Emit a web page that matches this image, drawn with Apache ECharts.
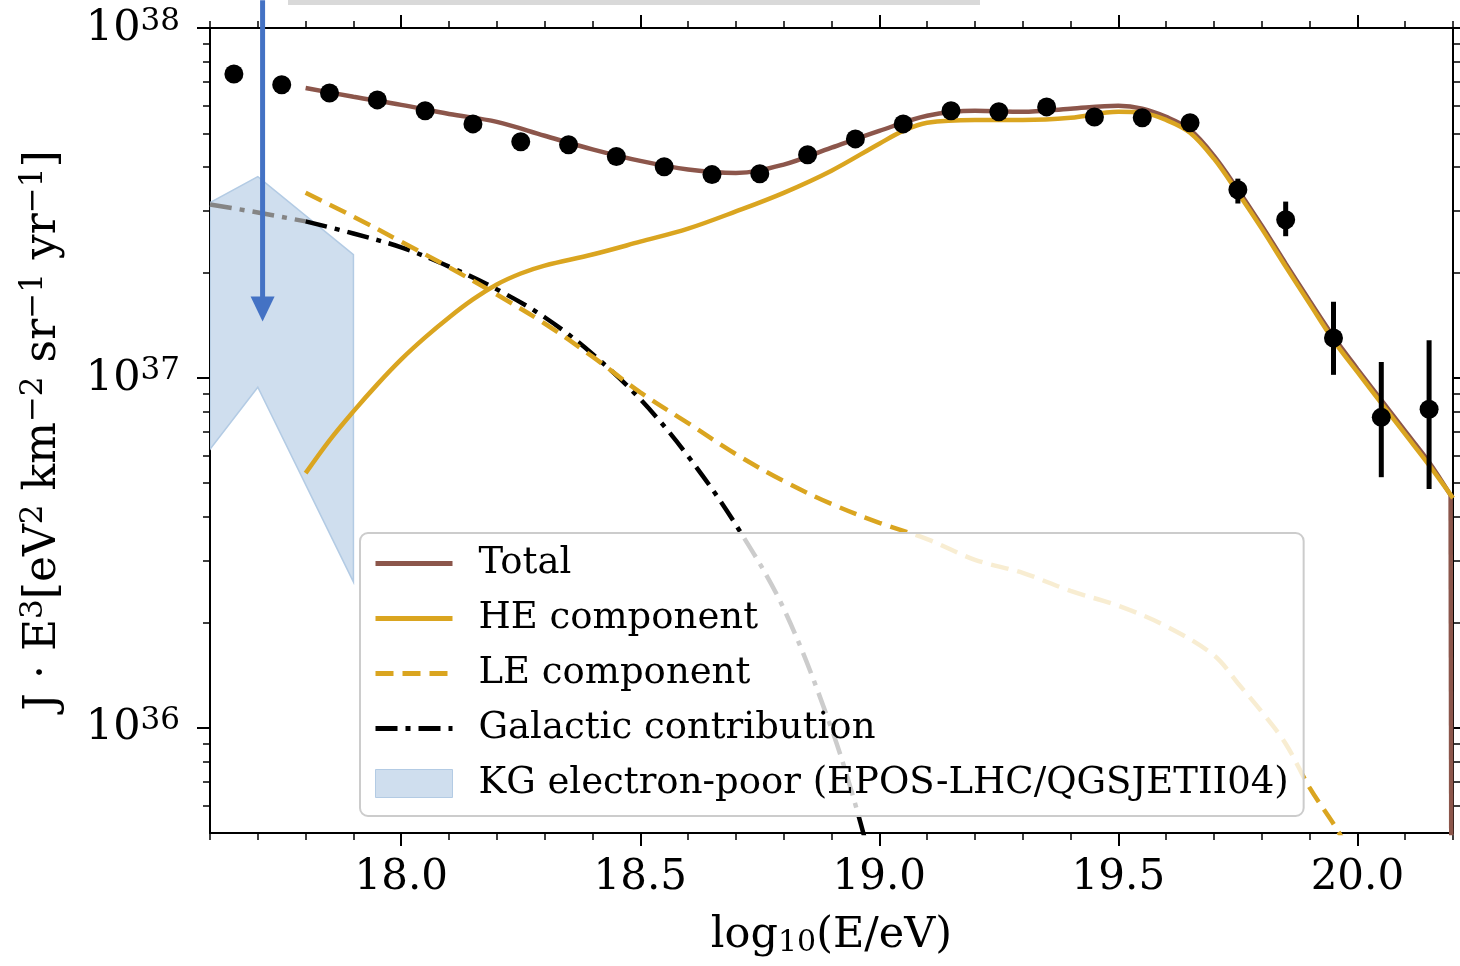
<!DOCTYPE html>
<html>
<head>
<meta charset="utf-8">
<script src="https://cdn.jsdelivr.net/npm/echarts@6/dist/echarts.min.js"></script>
<style>html,body{margin:0;padding:0;background:#fff}#c{width:1460px;height:966px}</style>
</head>
<body>
<div id="c"></div>
<script>
// ---------------- data ----------------
const dataX = [17.65,17.75,17.85,17.95,18.05,18.15,18.25,18.35,18.45,18.55,18.65,18.75,18.85,18.95,19.05,19.15,19.25,19.35,19.45,19.55,19.65,19.75,19.85,19.95,20.05,20.15];
const dataY = [7.39e37,6.88e37,6.52e37,6.23e37,5.80e37,5.32e37,4.73e37,4.64e37,4.29e37,4.01e37,3.81e37,3.83e37,4.34e37,4.82e37,5.32e37,5.80e37,5.76e37,5.95e37,5.57e37,5.54e37,5.36e37,3.45e37,2.83e37,1.30e37,7.71e36,8.13e36];
const errX  = [19.75,19.85,19.95,20.05,20.15];
const errLo = [3.15e37,2.54e37,1.02e37,5.20e36,4.81e36];
const errHi = [3.71e37,3.19e37,1.65e37,1.11e37,1.28e37];

const totalX = [17.8,17.9,18.0,18.1,18.2,18.3,18.4,18.5,18.6,18.7,18.8,18.9,19.0,19.1,19.2,19.3,19.4,19.5,19.55,19.6,19.65,19.7,19.75,19.8,19.85,19.9,19.95,20.0,20.05,20.1,20.15,20.195];
const totalY = [6.74e37,6.36e37,6.03e37,5.68e37,5.39e37,4.92e37,4.50e37,4.17e37,3.94e37,3.85e37,4.07e37,4.55e37,5.08e37,5.61e37,5.80e37,5.76e37,5.88e37,5.99e37,5.88e37,5.57e37,5.12e37,4.31e37,3.45e37,2.72e37,2.12e37,1.66e37,1.31e37,1.06e37,8.63e36,7.04e36,5.74e36,4.62e36];
const totalDropX = [20.195,20.2];
const totalDropY = [4.62e36,1e33];

const heX = [17.8,17.85,17.9,17.95,18.0,18.05,18.1,18.15,18.2,18.25,18.3,18.4,18.5,18.6,18.7,18.8,18.9,19.0,19.05,19.1,19.2,19.3,19.4,19.5,19.55,19.6,19.65,19.7,19.75,19.8,19.85,19.9,19.95,20.0,20.05,20.1,20.15,20.2];
const heY = [5.34e36,6.63e36,8.02e36,9.58e36,1.129e37,1.305e37,1.488e37,1.675e37,1.849e37,1.987e37,2.094e37,2.252e37,2.45e37,2.67e37,2.99e37,3.38e37,3.91e37,4.67e37,5.08e37,5.36e37,5.46e37,5.46e37,5.54e37,5.76e37,5.72e37,5.46e37,5.02e37,4.23e37,3.38e37,2.67e37,2.08e37,1.63e37,1.28e37,1.04e37,8.46e36,6.90e36,5.63e36,4.53e36];

const leX = [17.8,17.9,18.0,18.1,18.2,18.3,18.4,18.5,18.6,18.7,18.8,18.9,19.0,19.1,19.2,19.3,19.4,19.5,19.6,19.7,19.75,19.8,19.85,19.9,19.96,20.0];
const leY = [3.38e37,2.89e37,2.45e37,2.07e37,1.73e37,1.43e37,1.15e37,9.09e36,7.42e36,6.05e36,5.07e36,4.36e36,3.85e36,3.46e36,3.02e36,2.77e36,2.46e36,2.23e36,1.95e36,1.61e36,1.34e36,1.11e36,9.0e35,6.74e35,5.05e35,4.0e35];

const galX = [17.8,17.9,18.0,18.1,18.2,18.3,18.4,18.5,18.6,18.7,18.8,18.9,18.96,19.0];
const galY = [2.80e37,2.585e37,2.36e37,2.08e37,1.79e37,1.49e37,1.17e37,8.69e36,5.97e36,3.80e36,2.19e36,9.93e35,5.39e35,3.25e35];
const galExtX = [17.6,17.7,17.8];
const galExtY = [3.13e37,2.97e37,2.80e37];

const bandX  = [17.6,17.7,17.9];
const bandHi = [3.17e37,3.76e37,2.25e37];
const bandLo = [6.25e36,9.40e36,2.61e36];

const arrowX = 17.71, arrowTop = 1.2e38, arrowTip = 1.45e37;

const xMajor = [18.0,18.5,19.0,19.5,20.0];
const yMajor = [1e36,1e37,1e38];
const yMinor = [6e35,7e35,8e35,9e35,2e36,3e36,4e36,5e36,6e36,7e36,8e36,9e36,2e37,3e37,4e37,5e37,6e37,7e37,8e37,9e37];

const names = ['Total','HE component','LE component','Galactic contribution','KG electron-poor (EPOS-LHC/QGSJETII04)'];

// ---------------- chart ----------------
const FONT = 'DejaVu Serif';
const xMin = 17.6, xMax = 20.2, yMin = 5e35, yMax = 1e38;
const zip = (a, b) => a.map((v, i) => [v, b[i]]);
const GOLD = '#daa520', BROWN = '#8c564b';
const DASH = [18, 9], DASHDOT = [22, 8, 5, 8];

function xAxisDef(pos, major) {
  const ax = {
    type: 'value', position: pos, min: xMin, max: xMax,
    axisLine: {show: major, onZero: false, lineStyle: {color: '#000', width: 2}},
    splitLine: {show: false},
    axisLabel: {show: false}
  };
  if (major) {
    ax.axisTick = {show: true, inside: false, length: 13, customValues: xMajor, lineStyle: {color: '#000', width: 2}};
    if (pos === 'bottom') {
      ax.axisLabel = {show: true, customValues: xMajor, margin: 24, fontSize: 42, fontFamily: FONT, color: '#000',
        formatter: v => Number(v).toFixed(1)};
      ax.name = '{a|log}{u|10}{a|(E/eV)}';
      ax.nameLocation = 'middle';
      ax.nameGap = 81;
      ax.nameTextStyle = {fontFamily: FONT, color: '#000', rich: {
        a: {fontSize: 43, fontFamily: FONT, color: '#000', lineHeight: 44, verticalAlign: 'top'},
        u: {fontSize: 30, fontFamily: FONT, color: '#000', lineHeight: 20, verticalAlign: 'bottom'}
      }};
    }
  } else {
    ax.interval = 0.1;
    ax.axisTick = {show: true, inside: false, length: 7, lineStyle: {color: '#000', width: 1.5}};
  }
  return ax;
}
function yAxisDef(pos, major) {
  const ax = {
    type: 'log', logBase: 10, position: pos, min: yMin, max: yMax,
    axisLine: {show: major, onZero: false, lineStyle: {color: '#000', width: 2}},
    splitLine: {show: false},
    axisLabel: {show: false}
  };
  if (major) {
    ax.axisTick = {show: true, inside: false, length: 13, customValues: yMajor, lineStyle: {color: '#000', width: 2}};
    if (pos === 'left') {
      ax.axisLabel = {show: true, customValues: yMajor, margin: 30,
        formatter: v => '{b|10}{s|' + Math.round(Math.log10(v)) + '}',
        rich: {
          b: {fontSize: 43, fontFamily: FONT, color: '#000', lineHeight: 44, verticalAlign: 'bottom'},
          s: {fontSize: 31, fontFamily: FONT, color: '#000', lineHeight: 20, verticalAlign: 'top'}
        }};
      ax.name = '{a|J \u00b7 E}{s|3}{a|[eV}{s|2}{a| km}{s|\u22122}{a| sr}{s|\u22121}{a| yr}{s|\u22121}{a|]}';
      ax.nameLocation = 'middle';
      ax.nameGap = 144;
      ax.nameRotate = 90;
      ax.nameTextStyle = {fontFamily: FONT, color: '#000', rich: {
        a: {fontSize: 44, fontFamily: FONT, color: '#000', lineHeight: 48, verticalAlign: 'bottom'},
        s: {fontSize: 31, fontFamily: FONT, color: '#000', lineHeight: 22, verticalAlign: 'top'}
      }};
    }
  } else {
    ax.axisTick = {show: true, inside: false, length: 7, customValues: yMinor, lineStyle: {color: '#000', width: 1.5}};
  }
  return ax;
}

const legLine = (name, color, type) => ({name: name, itemStyle: {opacity: 0},
  lineStyle: {color: color, width: 5, type: type, opacity: 1}});

const option = {
  animation: false,
  backgroundColor: '#fff',
  grid: {left: 210, right: 7, top: 28, bottom: 133, containLabel: false},
  xAxis: [xAxisDef('bottom', true), xAxisDef('bottom', false), xAxisDef('top', true), xAxisDef('top', false)],
  yAxis: [yAxisDef('left', true), yAxisDef('left', false), yAxisDef('right', true), yAxisDef('right', false)],
  legend: {
    orient: 'vertical', left: 360, top: 533, z: 20,
    padding: [9, 15, 11, 13], itemWidth: 77, itemHeight: 28, itemGap: 12,
    backgroundColor: 'rgba(255,255,255,0.8)', borderColor: '#cccccc', borderWidth: 2, borderRadius: 8,
    textStyle: {fontSize: 37, fontFamily: FONT, color: '#000', lineHeight: 43, padding: [0, 0, 0, 21]},
    data: [
      legLine(names[0], BROWN, 'solid'),
      legLine(names[1], GOLD, 'solid'),
      legLine(names[2], GOLD, DASH),
      legLine(names[3], '#000', DASHDOT),
      {name: names[4], icon: 'rect', itemStyle: {color: '#cfdeee', borderColor: '#b3cbe4', borderWidth: 1, opacity: 1}}
    ]
  },
  graphic: [{type: 'rect', left: 288, top: 0, shape: {width: 692, height: 5}, style: {fill: '#d9d9d9'}, silent: true}],
  series: [
    {
      name: names[4], type: 'custom', z: 1, clip: true,
      itemStyle: {color: '#cfdeee'},
      data: [[bandX[0], bandHi[0]]],
      renderItem: function (params, api) {
        const pts = [];
        for (let i = 0; i < bandX.length; i++) pts.push(api.coord([bandX[i], bandHi[i]]));
        for (let i = bandX.length - 1; i >= 0; i--) pts.push(api.coord([bandX[i], bandLo[i]]));
        return {type: 'polygon', shape: {points: pts},
          style: {fill: '#cfdeee', stroke: '#b3cbe4', lineWidth: 1.5}};
      }
    },
    {
      name: 'galext', type: 'line', z: 3, data: zip(galExtX, galExtY), showSymbol: false, symbol: 'none', smooth: 0.3,
      lineStyle: {color: '#858585', width: 4.5, type: DASHDOT}
    },
    {
      name: names[3], type: 'line', z: 3, data: zip(galX, galY), showSymbol: false, symbol: 'none', smooth: 0.35,
      itemStyle: {color: '#000'},
      lineStyle: {color: '#000', width: 4.5, type: DASHDOT}
    },
    {
      name: names[2], type: 'line', z: 3, data: zip(leX, leY), showSymbol: false, symbol: 'none', smooth: 0.35,
      itemStyle: {color: GOLD},
      lineStyle: {color: GOLD, width: 4.5, type: DASH}
    },
    {
      name: names[0], type: 'line', z: 4, data: zip(totalX, totalY), showSymbol: false, symbol: 'none', smooth: 0.35,
      itemStyle: {color: BROWN},
      lineStyle: {color: BROWN, width: 4.5}
    },
    {
      name: 'totaldrop', type: 'line', z: 4, data: zip(totalDropX, totalDropY), showSymbol: false, symbol: 'none',
      lineStyle: {color: BROWN, width: 4.5}
    },
    {
      name: names[1], type: 'line', z: 5, data: zip(heX, heY), showSymbol: false, symbol: 'none', smooth: 0.35,
      itemStyle: {color: GOLD},
      lineStyle: {color: GOLD, width: 4.5}
    },
    {
      name: 'err', type: 'custom', z: 6,
      data: errX.map((x, i) => [x, errLo[i], errHi[i]]),
      encode: {x: 0, y: [1, 2]},
      renderItem: function (params, api) {
        const p1 = api.coord([api.value(0), api.value(1)]);
        const p2 = api.coord([api.value(0), api.value(2)]);
        return {type: 'line', shape: {x1: p1[0], y1: p1[1], x2: p2[0], y2: p2[1]}, style: {stroke: '#000', lineWidth: 5}};
      }
    },
    {
      name: 'data', type: 'scatter', z: 7, data: zip(dataX, dataY), symbol: 'circle', symbolSize: 19,
      itemStyle: {color: '#000', opacity: 1}
    },
    {
      name: 'arrow', type: 'custom', z: 8, clip: false,
      data: [[arrowX, arrowTip]],
      renderItem: function (params, api) {
        const top = api.coord([arrowX, arrowTop]);
        const tip = api.coord([arrowX, arrowTip]);
        const hl = 25, hw = 12;
        return {type: 'group', children: [
          {type: 'line', shape: {x1: top[0], y1: top[1], x2: tip[0], y2: tip[1] - hl + 2}, style: {stroke: '#4472c4', lineWidth: 5}},
          {type: 'polygon', shape: {points: [[tip[0] - hw, tip[1] - hl], [tip[0] + hw, tip[1] - hl], [tip[0], tip[1]]]}, style: {fill: '#4472c4'}}
        ]};
      }
    }
  ]
};
const chart = echarts.init(document.getElementById('c'));
chart.setOption(option);
</script>
</body>
</html>
